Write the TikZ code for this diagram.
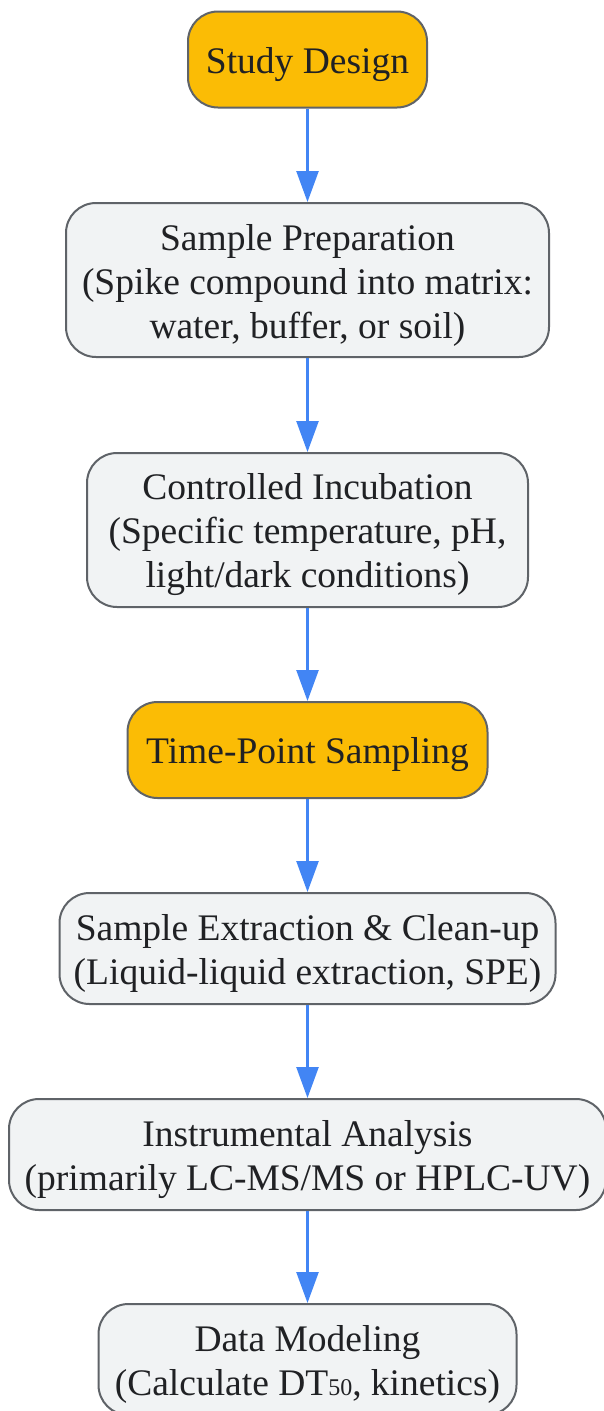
\documentclass[tikz,border=0pt]{standalone}
\usepackage{fontspec}
\setmainfont{Liberation Serif}
\usetikzlibrary{arrows.meta}
\definecolor{boxfill}{HTML}{F1F3F4}
\definecolor{hifill}{HTML}{FBBC05}
\definecolor{boxline}{HTML}{5F6368}
\definecolor{arrowblue}{HTML}{4285F4}
\definecolor{txt}{HTML}{202124}
\tikzset{
  stepbox/.style={draw=boxline, line width=2pt, fill=boxfill, rounded corners=30pt,
    inner sep=0pt},
  hibox/.style={stepbox, fill=hifill},
  steptext/.style={inner sep=0pt, align=center, text=txt, yshift=-5pt,
    font=\fontsize{37.5}{44}\selectfont},
  flow/.style={draw=arrowblue, line width=2.5pt,
    -{Triangle[length=31pt,width=22pt]}}
}
\begin{document}
\begin{tikzpicture}[x=1pt,y=-1pt]
\useasboundingbox (0,0) rectangle (603,1411);
\node[hibox, minimum width=239pt, minimum height=96pt,
  label={[steptext]center:Study Design}] (n1) at (307.5,59.5) {};
\node[stepbox, minimum width=483pt, minimum height=154pt,
  label={[steptext]center:Sample Preparation\\(Spike compound into matrix:\\water, buffer, or soil)}] (n2) at (307.5,280) {};
\node[stepbox, minimum width=441pt, minimum height=154pt,
  label={[steptext]center:Controlled Incubation\\(Specific temperature, pH,\\light/dark conditions)}] (n3) at (307.5,530) {};
\node[hibox, minimum width=360pt, minimum height=96pt,
  label={[steptext]center:Time-Point Sampling}] (n4) at (307.5,750) {};
\node[stepbox, minimum width=496pt, minimum height=111pt,
  label={[steptext]center:Sample Extraction \& Clean-up\\(Liquid-liquid extraction, SPE)}] (n5) at (307.5,948.5) {};
\node[stepbox, minimum width=597pt, minimum height=111pt,
  label={[steptext]center:Instrumental Analysis\\(primarily LC-MS/MS or HPLC-UV)}] (n6) at (307.5,1154.5) {};
\node[stepbox, minimum width=418pt, minimum height=111pt,
  label={[steptext]center:Data Modeling\\(Calculate DT{\fontsize{24}{24}\selectfont 50}, kinetics)}] (n7) at (307.5,1359.5) {};
\draw[flow] (n1) -- (n2);
\draw[flow] (n2) -- (n3);
\draw[flow] (n3) -- (n4);
\draw[flow] (n4) -- (n5);
\draw[flow] (n5) -- (n6);
\draw[flow] (n6) -- (n7);
\end{tikzpicture}
\end{document}
